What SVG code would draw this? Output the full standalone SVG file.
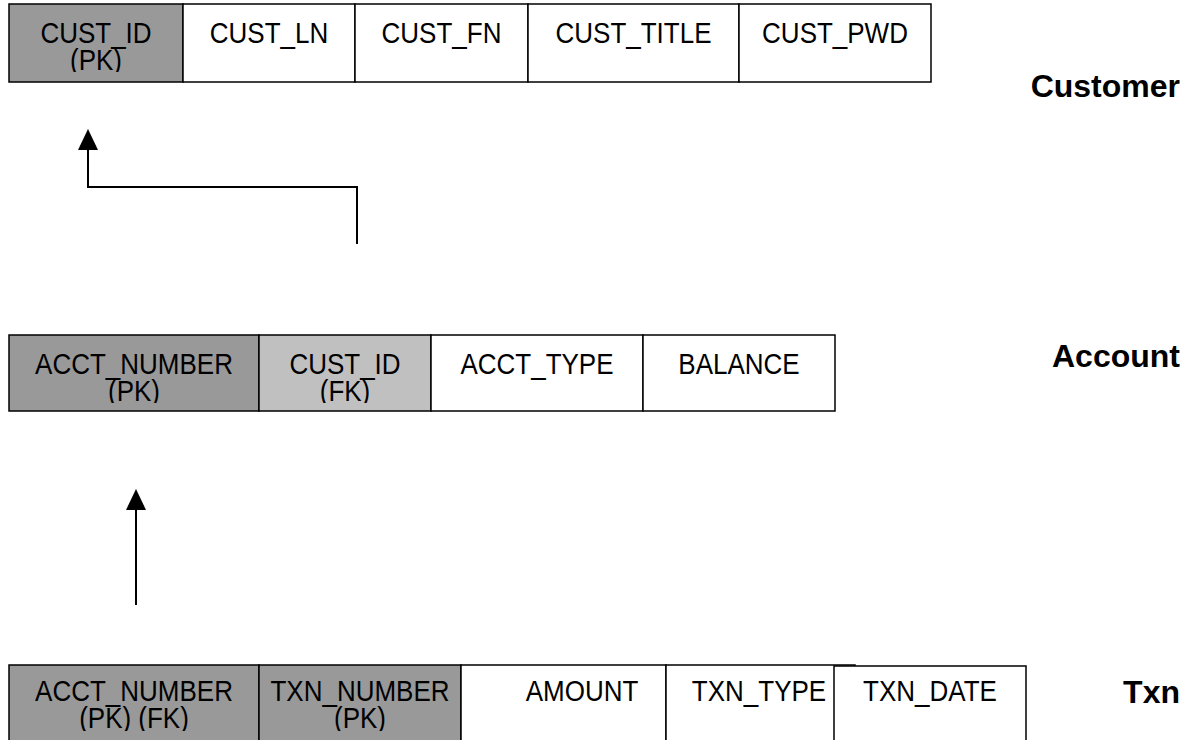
<svg xmlns="http://www.w3.org/2000/svg" width="1196" height="740" viewBox="0 0 1196 740">
<style>
.cell{stroke:#000;stroke-width:1.5;fill:#fff}
.pk{fill:#999999}
.fk{fill:#c0c0c0}
.t{font-family:"Liberation Sans",Arial,sans-serif;font-size:26px;fill:#000;text-anchor:middle}
.lbl{font-family:"Liberation Sans",Arial,sans-serif;font-size:32px;font-weight:bold;fill:#000;text-anchor:end}
.conn{stroke:#000;stroke-width:2;fill:none}
</style>
<defs>
<clipPath id="cc"><rect x="0" y="4" width="1196" height="68"/></clipPath>
<clipPath id="ca"><rect x="0" y="335" width="1196" height="68"/></clipPath>
<clipPath id="ct"><rect x="0" y="665" width="1196" height="66"/></clipPath>
</defs>
<rect width="1196" height="740" fill="#fff"/>

<g id="customer">
<rect class="cell pk" x="9" y="4" width="174" height="78"/>
<rect class="cell" x="183" y="4" width="172" height="78"/>
<rect class="cell" x="355" y="4" width="173" height="78"/>
<rect class="cell" x="528" y="4" width="211" height="78"/>
<rect class="cell" x="739" y="4" width="192" height="78"/>
<g clip-path="url(#cc)">
<text class="t" transform="translate(96,43) scale(1,1.17)">CUST_ID</text>
<text class="t" transform="translate(96,70) scale(1,1.17)">(PK)</text>
<text class="t" transform="translate(269,43) scale(1,1.17)">CUST_LN</text>
<text class="t" transform="translate(441.5,43) scale(1,1.17)">CUST_FN</text>
<text class="t" transform="translate(633.5,43) scale(1,1.17)">CUST_TITLE</text>
<text class="t" transform="translate(835,43) scale(1,1.17)">CUST_PWD</text>
</g>
<text class="lbl" x="1180" y="97">Customer</text>
</g>

<g id="account">
<rect class="cell pk" x="9" y="335" width="250" height="76"/>
<rect class="cell fk" x="259" y="335" width="172" height="76"/>
<rect class="cell" x="431" y="335" width="212" height="76"/>
<rect class="cell" x="643" y="335" width="192" height="76"/>
<g clip-path="url(#ca)">
<text class="t" transform="translate(134,374) scale(1,1.17)">ACCT_NUMBER</text>
<text class="t" transform="translate(134,401) scale(1,1.17)">(PK)</text>
<text class="t" transform="translate(345,374) scale(1,1.17)">CUST_ID</text>
<text class="t" transform="translate(345,401) scale(1,1.17)">(FK)</text>
<text class="t" transform="translate(537,374) scale(1,1.17)">ACCT_TYPE</text>
<text class="t" transform="translate(739,374) scale(1,1.17)">BALANCE</text>
</g>
<text class="lbl" x="1180" y="367">Account</text>
</g>

<g id="txn">
<rect class="cell pk" x="9" y="665" width="250" height="95"/>
<rect class="cell pk" x="259" y="665" width="202" height="95"/>
<rect class="cell" x="461" y="665" width="205" height="95"/>
<rect class="cell" x="666" y="665" width="189" height="95"/>
<rect class="cell" x="834" y="666" width="192" height="94"/>
<g clip-path="url(#ct)">
<text class="t" transform="translate(134,701) scale(1,1.17)">ACCT_NUMBER</text>
<text class="t" transform="translate(134,728) scale(1,1.17)">(PK) (FK)</text>
<text class="t" transform="translate(360,701) scale(1,1.17)">TXN_NUMBER</text>
<text class="t" transform="translate(360,728) scale(1,1.17)">(PK)</text>
<text class="t" transform="translate(582,701) scale(1,1.17)">AMOUNT</text>
<text class="t" transform="translate(759,701) scale(1,1.17)">TXN_TYPE</text>
<text class="t" transform="translate(930,701) scale(1,1.17)">TXN_DATE</text>
</g>
<text class="lbl" x="1180" y="703">Txn</text>
</g>

<g id="connectors">
<path class="conn" d="M357,244 V187 H88 V150"/>
<path d="M78,150 L88,129 L98,150 Z" fill="#000"/>
<path class="conn" d="M136,605 V510"/>
<path d="M126,510 L136,489 L146,510 Z" fill="#000"/>
</g>
</svg>
